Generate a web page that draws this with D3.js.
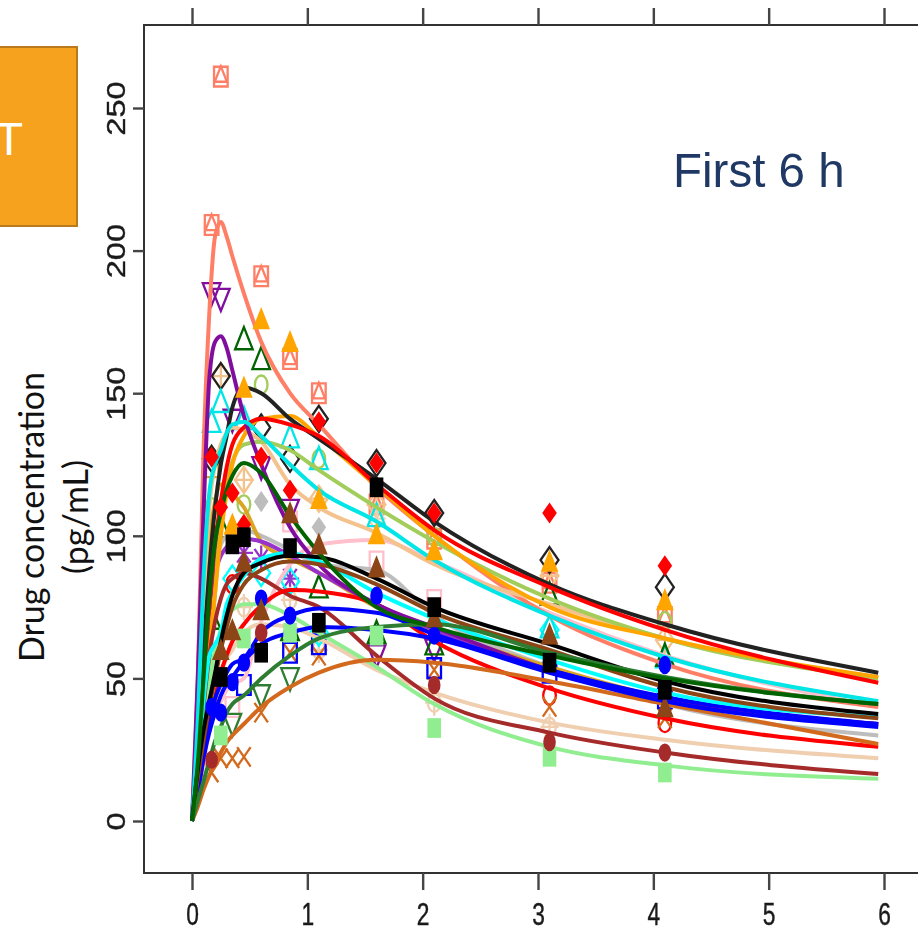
<!DOCTYPE html>
<html>
<head>
<meta charset="utf-8">
<script src="https://cdn.jsdelivr.net/npm/d3@7"></script>
<style>
  html, body { margin: 0; padding: 0; background: #fff; overflow: hidden; }
  svg { display: block; }
  .axis text { font-family: "Liberation Sans", sans-serif; fill: #1a1a1a; stroke: #1a1a1a; stroke-width: 0.35px; }
  .axis line { stroke: #444; stroke-width: 2.4px; }
</style>
</head>
<body>
<svg width="918" height="927"></svg>
<script>
var n = null;

// model curves are sampled at these hours
var lineTimes = [0, 0.05, 0.1, 0.15, 0.2, 0.25, 0.3, 0.35, 0.45, 0.6, 0.85, 1.1, 1.6, 2.1, 3.1, 4.1, 5.95];
// blood draws
var obsTimes = [0.17, 0.25, 0.35, 0.45, 0.6, 0.85, 1.1, 1.6, 2.1, 3.1, 4.1];

var xTicks = [0, 1, 2, 3, 4, 5, 6];
var yTicks = [0, 50, 100, 150, 200, 250];

var salmonLine = [0, 50, 130, 178, 205, 210, 205, 198, 185, 168, 150, 139, 117, 100, 72, 55, 40];
var purpleLine = [0, 50, 108, 155, 168, 170, 166, 158, 142, 125, 103, 90, 76, 68, 53, 43, 34];
var blackLine = [0, 25, 60, 88, 110, 125, 135, 145, 152, 150, 141, 134, 120, 105, 83, 69, 52];
var redLine = [0, 22, 50, 75, 97, 112, 124, 132, 138, 141, 139, 135, 118, 102, 82, 67, 48.5];
var orangeLine = [0, 15, 35, 60, 80, 100, 115, 125, 135, 141, 142, 134.6, 117.5, 100, 75, 64, 50.5];
var olivegreenLine = [0, 12, 30, 55, 80, 105, 118, 126, 132, 133, 130, 123, 110, 98, 78, 64, 50];
var tanLine = [0, 30, 75, 110, 125, 132, 136, 138, 137, 133, 118, 110, 101, 90, 76, 64, 50.5];
var cyanLine = [0, 35, 85, 115, 125, 130, 136, 139, 140, 135, 125, 116, 105, 91.5, 72, 57.5, 42];
var pinkLine = [0, 8, 20, 32, 38, 42, 46, 48, 50, 70, 90, 97, 98.5, 91, 73, 58, 40];
var black2Line = [0, 18, 32, 42, 52, 63, 72, 79, 87, 90.5, 93, 92.5, 85, 75, 62, 49, 37.5];
var sienaLine = [0, 15, 28, 40, 50, 60, 68, 75, 83, 88, 91, 90, 83, 73, 60, 47, 36];
var greenLine = [0, 20, 50, 78, 98, 108, 116, 121, 125.5, 122, 107, 94, 75, 68, 58, 50, 41];
var green2Line = [0, 7, 14, 21, 28, 33, 38, 41, 44, 50, 58, 64, 68, 69, 59, 50.5, 41];
var blueLine = [0, 12, 25, 36, 43, 48, 52, 55, 57, 66, 72, 74.5, 73, 65.5, 53, 43.5, 34];
var blue2Line = [0, 10, 22, 31, 38, 44, 48, 50.5, 56, 62, 66, 68, 67, 64, 52, 42, 33];
var red2Line = [0, 10, 22, 34, 43, 52, 58, 63, 69, 75.5, 81, 80.5, 76, 63, 46.5, 36, 26];
var brownLine = [0, 18, 40, 58, 70, 78, 83, 85, 87, 85, 79, 75, 58, 43, 31, 24, 16.5];
var lightgreenLine = [0, 15, 33, 48, 60, 67, 72, 74, 76, 76, 72, 66, 54, 41, 26, 19.5, 14.8];
var bisqueLine = [0, 12, 26, 38, 46, 52, 57, 60, 66, 69, 68, 64, 53, 45, 34.5, 28.5, 22];
var chocolateLine = [0, 5, 11, 16, 20, 24, 27.5, 30, 34, 40, 47, 52, 56.5, 55.5, 49, 41, 27];
var goldLine = [0, 35, 70, 98, 112, 118, 118, 115, 110, 98, 92, 87, 75, 67, 54, 43, 34];
var grayLine = [0, 25, 55, 75, 90, 97, 100, 101, 102, 100, 95, 90, 88, 72, 54, 41, 30];
var orchidLine = [0, 25, 55, 75, 87, 93, 96, 98, 99, 98, 93, 87, 76, 67, 53, 43, 34];
var cyan2Line = [0, 20, 42, 58, 62, 66, 76, 80, 86, 92, 94, 91, 80, 71, 56.5, 45, 36.5];

var salmonObs = [209, 261, n, n, 191, 162, 150, 111, 99, 83.5, 71.5];
var purpleObs = [186, 184, 141.6, n, 125, 110, n, 59, 61, n, n];
var greenObs = [70, 102, n, 168, 161, 66, 81, 65, 61, 78.5, 57];
var orangeObs = [n, n, 103, 151, 175, 167, 112, 99.6, 94, 90, 76.5];
var redObs = [127.6, 110, 115, 104, 127.6, 116, 140, 125.5, 108, 108, 89.5];
var blackObs = [127, 156, n, n, 138, 127, 141, 125.5, 108, 91.5, 82];
var black2Obs = [n, 50.5, 97, 99.5, 59, 95.7, 69.5, 117, 75, 55.5, 46];
var blueObs = [40, 38, 48.7, 55.5, 78, 72, 69.5, 79, 65, 55.5, 54.7];
var blue2Obs = [n, n, n, 47.7, n, 59, 62, n, 53.6, 52, 43];
var sienaObs = [n, 59, 66, 90, 73, 107, 96, 88, 70.5, 64.5, 39];
var grayObs = [n, n, n, n, 112, n, 103, n, n, n, n];
var pinkObs = [n, n, 40, n, n, 105, n, 91, 77.5, n, n];
var tanObs = [n, 156, n, 119.6, n, n, 113, 111, n, 86, 63.5];
var bisqueObs = [n, n, n, 75, n, 77.5, 60, 106, 41.5, 33, n];
var olivegreenObs = [110, n, n, 111, 153, n, 127, n, 99.6, n, 70];
var cyanObs = [139, 146, n, 140, n, 133.6, 126, 106, n, 67, 56.5];
var cyan2Obs = [n, n, 85, n, 87, 84, 66, n, n, 67, n];
var chocolateObs = [17, 22, 22, 22.5, 38, 59, 58, n, 53, 40, 36];
var brownObs = [21.5, n, n, n, 66, n, n, n, 47.7, 27.7, 24];
var lightgreenObs = [n, 30, n, 64, n, 66, n, 65, 32.6, 22.5, 17];
var red2Obs = [n, n, 83, n, n, n, n, n, n, 44, 34.4];
var green2Obs = [n, n, 35, n, 45, 51, n, n, n, n, n];
var goldObs = [124, n, n, n, n, n, n, n, n, n, n];
var orchidObs = [n, n, n, 94, 92, 85, n, n, n, n, n];

// bottom to top, same stacking as the lines on the right edge
var series = [
  {color: '#bdbdbd', line: grayLine, obs: grayObs, mark: ['diamond'], fill: true},
  {color: '#ffc0cb', line: pinkLine, obs: pinkObs, mark: ['square']},
  {color: '#daa520', line: goldLine, obs: goldObs, mark: ['square']},
  {color: '#9932cc', line: orchidLine, obs: orchidObs, mark: ['plus', 'times']},
  {color: '#ff7f66', line: salmonLine, obs: salmonObs, mark: ['square', 'innerTriangle']},
  {color: '#f4c28c', line: tanLine, obs: tanObs, mark: ['bigDiamond', 'plus']},
  {color: '#a2cd5a', line: olivegreenLine, obs: olivegreenObs, mark: ['circle']},
  {color: '#ffa500', line: orangeLine, obs: orangeObs, mark: ['triangle'], fill: true},
  {color: '#222222', line: blackLine, obs: blackObs, mark: ['bigDiamond']},
  {color: '#ff0000', line: redLine, obs: redObs, mark: ['diamond'], fill: true},
  {color: '#efcfb0', line: bisqueLine, obs: bisqueObs, mark: ['circle', 'plus']},
  {color: '#90ee90', line: lightgreenLine, obs: lightgreenObs, mark: ['square'], fill: true},
  {color: '#a52a2a', line: brownLine, obs: brownObs, mark: ['circle'], fill: true},
  {color: '#ff0000', line: red2Line, obs: red2Obs, mark: ['circle']},
  {color: '#d2691e', line: chocolateLine, obs: chocolateObs, mark: ['times']},
  {color: '#800f9e', line: purpleLine, obs: purpleObs, mark: ['invTriangle']},
  {color: '#0000ff', line: blue2Line, obs: blue2Obs, mark: ['square']},
  {color: '#0000ff', line: blueLine, obs: blueObs, mark: ['circle'], fill: true},
  {color: '#00ffff', line: cyan2Line, obs: cyan2Obs, mark: ['bigDiamond']},
  {color: '#00e5e5', line: cyanLine, obs: cyanObs, mark: ['triangle']},
  {color: '#8b4513', line: sienaLine, obs: sienaObs, mark: ['triangle'], fill: true},
  {color: '#000000', line: black2Line, obs: black2Obs, mark: ['square'], fill: true},
  {color: '#2e7d32', line: green2Line, obs: green2Obs, mark: ['invTriangle']},
  {color: '#006400', line: greenLine, obs: greenObs, mark: ['triangle']}
];

var svg = d3.select('svg');

var x = d3.scaleLinear().domain([0, 6]).range([192, 884]),
  y = d3.scaleLinear().domain([0, 250]).range([821, 108]);

var symbols = {
  square: d3.symbol(d3.symbolSquare, 185),
  triangle: d3.symbol(d3.symbolTriangle, 135),
  innerTriangle: d3.symbol(d3.symbolTriangle, 65),
  invTriangle: d3.symbol(d3.symbolTriangle, 135),
  diamond: d3.symbol(d3.symbolDiamond2, 135),
  bigDiamond: d3.symbol(d3.symbolDiamond2, 205),
  circle: d3.symbol(d3.symbolCircle, 125),
  plus: d3.symbol(d3.symbolPlus, 110),
  times: d3.symbol(d3.symbolTimes, 120)
};

var line = d3
  .line()
  .x((d, i) => x(lineTimes[i]))
  .y(d => y(d))
  .curve(d3.curveMonotoneX);

// the source picture is an upscaled bitmap, a little blur gets the soft edges
var defs = svg.append('defs');
defs
  .append('filter')
  .attr('id', 'soft')
  .attr('x', '-5%')
  .attr('y', '-5%')
  .attr('width', '110%')
  .attr('height', '110%')
  .append('feGaussianBlur')
  .attr('stdDeviation', 0.6);

// orange box cut by the left edge
svg
  .append('rect')
  .attr('x', -10)
  .attr('y', 47)
  .attr('width', 87)
  .attr('height', 179)
  .attr('fill', '#f6a21e')
  .attr('stroke', '#b97a1c')
  .attr('stroke-width', 2);

svg
  .append('text')
  .attr('x', 23)
  .attr('y', 155)
  .attr('text-anchor', 'end')
  .style('font', '46px "Liberation Sans", sans-serif')
  .attr('fill', '#fff')
  .text('T');

// frame runs off the right side
var chart = svg.append('g').attr('filter', 'url(#soft)');

chart
  .append('rect')
  .attr('x', 144)
  .attr('y', 25)
  .attr('width', 800)
  .attr('height', 848)
  .attr('fill', 'none')
  .attr('stroke', '#333')
  .attr('stroke-width', 2);

function drawObs(list) {
  list.forEach(function(s) {
    var pts = obsTimes
      .map((t, i) => ({t: t, v: s.obs[i]}))
      .filter(d => d.v !== null);
    s.mark.forEach(function(m) {
      chart
        .append('g')
        .selectAll('path')
        .data(pts)
        .enter()
        .append('path')
        .attr('d', symbols[m]())
        .attr('transform', function(d) {
          return (
            'translate(' + x(d.t) + ',' + y(d.v) + ') scale(1,' +
            (m === 'invTriangle' ? -1.45 : 1.45) + ')'
          );
        })
        .attr('vector-effect', 'non-scaling-stroke')
        .attr('fill', s.fill ? s.color : 'none')
        .attr('stroke', s.color)
        .attr('stroke-width', s.fill ? 0 : 2.3);
    });
  });
}

drawObs(series.filter(s => s.obs && !s.fill));

chart
  .append('g')
  .selectAll('path')
  .data(series)
  .enter()
  .append('path')
  .attr('d', d => line(d.line))
  .attr('fill', 'none')
  .attr('stroke', d => d.color)
  .attr('stroke-width', 4);

drawObs(series.filter(s => s.obs && s.fill));

// axes, digits are stretched in the source so scale the tick labels
var axes = svg.append('g').attr('filter', 'url(#soft)');

var xAxis = axes
  .append('g')
  .attr('class', 'axis')
  .attr('transform', 'translate(0,873)')
  .call(d3.axisBottom(x).tickValues(xTicks).tickFormat(d3.format('d')).tickSize(17).tickPadding(0));
xAxis.select('.domain').remove();
xAxis
  .selectAll('text')
  .style('font-size', '24px')
  .attr('y', 0)
  .attr('dy', 0)
  .attr('transform', 'translate(0,52) scale(0.95,1.27)');

var topAxis = axes
  .append('g')
  .attr('class', 'axis')
  .attr('transform', 'translate(0,25)')
  .call(d3.axisTop(x).tickValues(xTicks).tickFormat('').tickSize(17));
topAxis.select('.domain').remove();

var yAxis = axes
  .append('g')
  .attr('class', 'axis')
  .attr('transform', 'translate(144,0)')
  .call(d3.axisLeft(y).tickValues(yTicks).tickFormat(d3.format('d')).tickSize(11));
yAxis.select('.domain').remove();
yAxis
  .selectAll('text')
  .style('font-size', '24px')
  .attr('text-anchor', 'middle')
  .attr('x', 0)
  .attr('y', 0)
  .attr('dy', 0)
  .attr('transform', 'translate(-19,0) rotate(-90) scale(1.36,1.05)');

svg
  .append('text')
  .attr('x', 673)
  .attr('y', 187)
  .style('font', '47.5px "Liberation Sans", sans-serif')
  .attr('fill', '#1f3864')
  .text('First 6 h');

var yLabel = svg
  .append('text')
  .attr('transform', 'translate(0,517) rotate(-90)')
  .attr('text-anchor', 'middle')
  .style('font', '34px Lato, sans-serif')
  .attr('fill', '#111');
yLabel.append('tspan').attr('x', 0).attr('y', 44).text('Drug concentration');
yLabel.append('tspan').attr('x', 0).attr('y', 88).text('(pg/mL)');
</script>
</body>
</html>
